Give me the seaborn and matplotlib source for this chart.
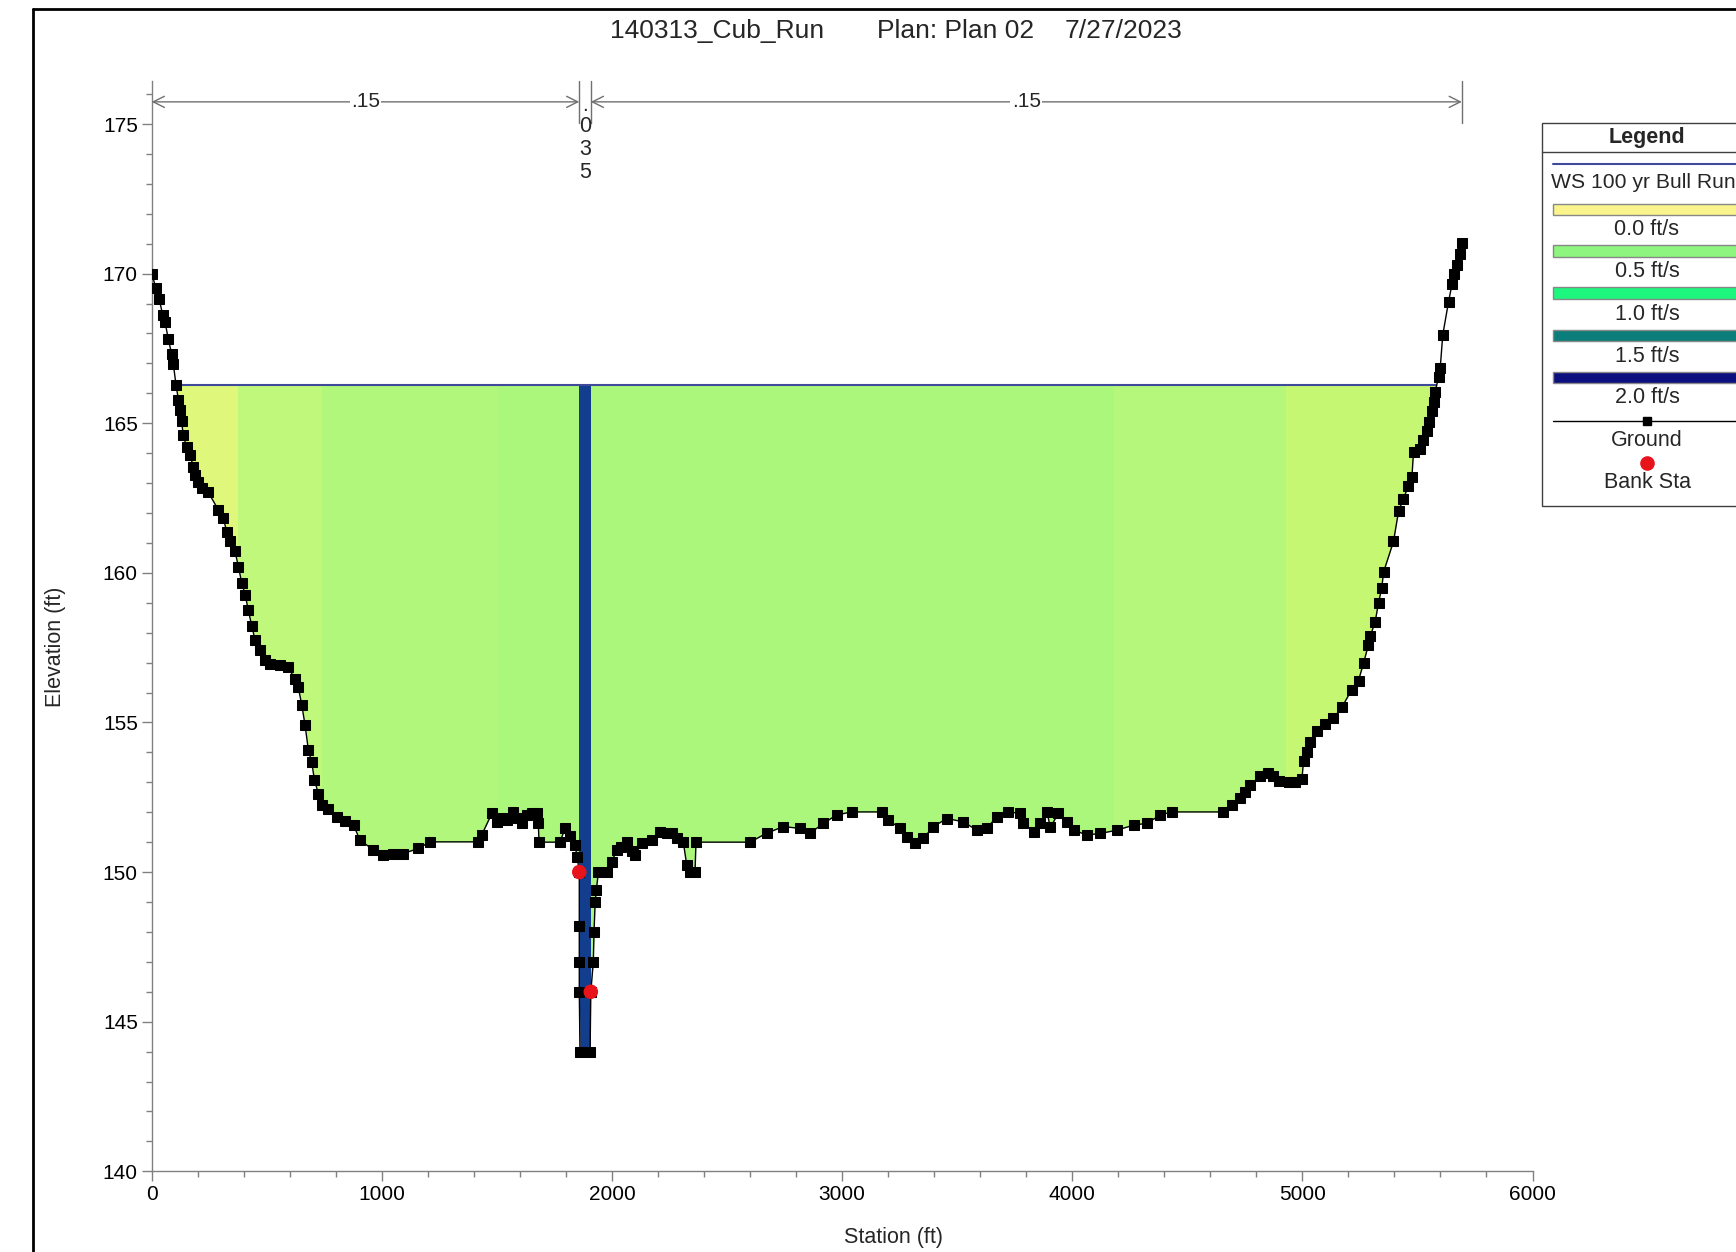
import numpy as np
import pandas as pd
import matplotlib
matplotlib.use("Agg")
import matplotlib.pyplot as plt
import seaborn as sns
from matplotlib.patches import Rectangle
from matplotlib.lines import Line2D
from matplotlib.ticker import MultipleLocator

# ---------------- data ----------------
station = [0, 19, 33, 48, 58, 72, 87, 94, 106, 116, 123, 130, 137, 152, 166, 181, 188, 203, 217, 246,
           290, 311, 326, 340, 362, 377, 391, 406, 420, 435, 449, 471, 492, 514, 558, 594, 623, 637, 652, 666,
           681, 695, 707, 724, 739, 768, 804, 840, 877, 905, 963, 1007, 1050, 1093, 1159, 1209, 1419, 1434, 1478, 1500,
           1520, 1543, 1572, 1590, 1608, 1630, 1651, 1673, 1680, 1683, 1774, 1796, 1818, 1839, 1849, 1858, 1858, 1858, 1858, 1861,
           1905, 1908, 1919, 1922, 1927, 1932, 1941, 1977, 1999, 2020, 2040, 2064, 2085, 2100, 2129, 2173, 2209, 2240, 2259, 2281,
           2310, 2325, 2339, 2361, 2365, 2600, 2672, 2745, 2817, 2861, 2919, 2977, 3042, 3172, 3201, 3252, 3281, 3317, 3353, 3397,
           3455, 3527, 3585, 3629, 3672, 3723, 3774, 3788, 3832, 3861, 3890, 3905, 3940, 3977, 4006, 4064, 4122, 4194, 4267, 4325,
           4383, 4433, 4657, 4693, 4729, 4751, 4773, 4816, 4850, 4874, 4900, 4940, 4969, 4998, 5005, 5019, 5034, 5063, 5099, 5135,
           5171, 5215, 5244, 5266, 5287, 5295, 5316, 5331, 5345, 5353, 5396, 5418, 5439, 5461, 5476, 5483, 5512, 5526, 5541, 5552,
           5563, 5570, 5577, 5592, 5599, 5610, 5635, 5650, 5657, 5671, 5686, 5693]
elevation = [170.0, 169.51, 169.14, 168.61, 168.38, 167.82, 167.3, 166.97, 166.27, 165.78, 165.45, 165.07, 164.6, 164.2, 163.94, 163.55, 163.28, 163.02, 162.83, 162.69,
             162.1, 161.84, 161.37, 161.05, 160.72, 160.2, 159.67, 159.27, 158.75, 158.22, 157.76, 157.43, 157.1, 156.97, 156.91, 156.84, 156.44, 156.18, 155.59, 154.93,
             154.07, 153.68, 153.09, 152.62, 152.23, 152.1, 151.83, 151.7, 151.57, 151.07, 150.74, 150.57, 150.6, 150.62, 150.79, 151.01, 151.01, 151.24, 151.96, 151.68,
             151.8, 151.74, 152.0, 151.8, 151.63, 151.9, 151.96, 151.96, 151.63, 151.0, 151.0, 151.46, 151.2, 150.9, 150.5, 150.0, 148.2, 147.0, 146.0, 144.0,
             144.0, 146.0, 147.0, 148.0, 149.0, 149.4, 150.0, 150.0, 150.33, 150.74, 150.85, 151.0, 150.7, 150.57, 150.96, 151.07, 151.35, 151.3, 151.3, 151.13,
             151.0, 150.23, 150.0, 150.0, 151.0, 151.0, 151.3, 151.52, 151.46, 151.3, 151.63, 151.91, 152.01, 152.01, 151.74, 151.46, 151.18, 150.96, 151.13, 151.52,
             151.79, 151.68, 151.4, 151.46, 151.85, 152.01, 151.96, 151.63, 151.35, 151.63, 152.0, 151.5, 151.96, 151.68, 151.4, 151.24, 151.29, 151.4, 151.57, 151.63,
             151.91, 152.01, 152.01, 152.24, 152.46, 152.68, 152.91, 153.2, 153.3, 153.2, 153.05, 153.0, 153.0, 153.1, 153.71, 154.0, 154.36, 154.72, 154.96, 155.14,
             155.5, 156.1, 156.4, 156.99, 157.59, 157.89, 158.35, 159.0, 159.5, 160.03, 161.05, 162.06, 162.48, 162.9, 163.2, 164.04, 164.15, 164.44, 164.74, 165.04,
             165.4, 165.7, 166.06, 166.54, 166.84, 167.95, 169.05, 169.64, 170.0, 170.3, 170.66, 171.02]
ws_elev = 166.27
bank_station = [1858, 1908]
bank_elev = [150.0, 146.0]

zone_edges = [0, 375, 740, 1500, 1856, 1908, 4180, 4930, 5693]
zone_colors = ["#dff87b", "#c0f87b", "#b0f77c", "#abf77c", "#123e8d", "#abf77c", "#b5f77a", "#c6f773"]

n_edges = [0, 1858, 1908, 5693]
n_labels = [".15", ".035", ".15"]

legend_labels = ["0.0 ft/s", "0.5 ft/s", "1.0 ft/s", "1.5 ft/s", "2.0 ft/s"]
legend_colors = ["#f9f48c", "#8ef57e", "#1ef77e", "#0b7d7a", "#0c0f7e"]

title_parts = ["140313_Cub_Run", "Plan: Plan 02", "7/27/2023"]

# ---------------- style ----------------
sns.set_style("white")
plt.rcParams["font.family"] = ["Liberation Sans", "DejaVu Sans"]

W, H = 1736, 1252
fig = plt.figure(figsize=(W / 100, H / 100), dpi=100)
fx = lambda px: px / W
fy = lambda py: 1 - py / H

ymin, ymax = 140, 176.45
ax_left, ax_right = 151.7, 1532.5
ax_bottom_px = 1171.3
ax_top_px = 124 - (ymax - 175) * 29.92
ax = fig.add_axes([fx(ax_left), fy(ax_bottom_px), fx(ax_right) - fx(ax_left),
                   (ax_bottom_px - ax_top_px) / H])

df = pd.DataFrame({"Station": station, "Elevation": elevation})

# velocity zone fills (below water surface), then mask below ground
for i, c in enumerate(zone_colors):
    ax.fill_between([zone_edges[i], zone_edges[i + 1]], [ymin, ymin], [ws_elev, ws_elev],
                    color=c, lw=0, zorder=1)
ax.fill_between(df["Station"], ymin - 1, df["Elevation"], color="white", lw=0, zorder=1.5)

# water surface
ws_left = 106
ws_right = 5582
ax.plot([ws_left, ws_right], [ws_elev, ws_elev], color="#3f4a9a", lw=1.5, zorder=3)

# ground
sns.lineplot(data=df, x="Station", y="Elevation", sort=False, estimator=None, ax=ax,
             color="black", lw=1, marker="s", markersize=6.5, markeredgecolor="black",
             zorder=4)

# bank stations
bdf = pd.DataFrame({"Station": bank_station, "Elevation": bank_elev})
sns.scatterplot(data=bdf, x="Station", y="Elevation", ax=ax, color="#e8141c", s=110,
                edgecolor="none", zorder=5)

# Manning's n brackets
arrow_y = 175.74
gray = "#707070"
for x in n_edges[1:]:
    ax.plot([x, x], [175.05, ymax], color=gray, lw=1, zorder=3, clip_on=False)
for i in [0, 2]:
    ax.annotate("", xy=(n_edges[i + 1], arrow_y), xytext=(n_edges[i], arrow_y),
                arrowprops=dict(arrowstyle="<->", color=gray, lw=1, shrinkA=0, shrinkB=0,
                                mutation_scale=20))
    ax.text((n_edges[i] + n_edges[i + 1]) / 2, arrow_y, n_labels[i], ha="center", va="center",
            fontsize=15, bbox=dict(facecolor="white", edgecolor="none", pad=1), zorder=6)
mid = (n_edges[1] + n_edges[2]) / 2
lab = n_labels[1]
ax.text(mid, 175.43, lab[0], ha="center", va="baseline", fontsize=15, zorder=6)
ax.text(mid, 175.26, "\n".join(lab[1:]), ha="center", va="top", fontsize=15.5,
        linespacing=1.13, zorder=6)

# axes formatting
ax.set_xlim(0, 6000)
ax.set_ylim(ymin, ymax)
ax.set_xticks(np.arange(0, 6001, 1000))
ax.set_yticks(np.arange(140, 176, 5))
ax.xaxis.set_minor_locator(MultipleLocator(200))
ax.yaxis.set_minor_locator(MultipleLocator(1))
ax.tick_params(axis="both", which="major", direction="out", length=7, width=1, color="#808080",
               labelsize=15, pad=3, labelcolor="black")
ax.tick_params(axis="both", which="minor", direction="out", length=4.5, width=1, color="#808080")
ax.tick_params(axis="x", which="both", bottom=True)
ax.tick_params(axis="y", which="both", left=True)
for s in ["top", "right"]:
    ax.spines[s].set_visible(False)
for s in ["left", "bottom"]:
    ax.spines[s].set_color("#808080")
    ax.spines[s].set_linewidth(1)
ax.set_xlabel("")
ax.set_ylabel("")
fig.text(fx(894), fy(1237), "Station (ft)", ha="center", va="center", fontsize=15.5)
fig.text(fx(55), fy(647), "Elevation (ft)", ha="center", va="center", fontsize=15.5, rotation=90)

# title
fig.text(fx(717), fy(31), title_parts[0], ha="center", va="center", fontsize=19)
fig.text(fx(955.5), fy(31), title_parts[1], ha="center", va="center", fontsize=19)
fig.text(fx(1124), fy(31), title_parts[2], ha="center", va="center", fontsize=19)

# outer frame (only left and top visible)
fig.add_artist(Line2D([fx(32.5), fx(32.5)], [fy(8.5), fy(1260)], color="black", lw=2))
fig.add_artist(Line2D([fx(32.5), fx(1740)], [fy(8.5), fy(8.5)], color="black", lw=2))

# legend box (cut off on the right like the reference)
lx0, ly0, ly1 = 1542.3, 122.5, 505.5
fig.add_artist(Rectangle((fx(lx0), fy(ly1)), fx(1760) - fx(lx0), fy(ly0) - fy(ly1),
                         transform=fig.transFigure, facecolor="white", edgecolor="#404040", lw=1))
fig.add_artist(Line2D([fx(lx0), fx(1740)], [fy(152.3), fy(152.3)], color="#404040", lw=1))
cx = 1647
fig.text(fx(cx), fy(137), "Legend", ha="center", va="center", fontsize=15.5, fontweight="bold")
fig.add_artist(Line2D([fx(1553), fx(1740)], [fy(164.3), fy(164.3)], color="#3f4a9a", lw=1.5))
fig.text(fx(1551), fy(183), "WS 100 yr Bull Run", ha="left", va="center", fontsize=15.2)
bar_tops = [204, 245.5, 287.5, 330, 372]
label_y = [229.5, 272, 314, 356, 397.5]
for bt, ly, lab_txt, col in zip(bar_tops, label_y, legend_labels, legend_colors):
    fig.add_artist(Rectangle((fx(1553), fy(bt + 11)), fx(1760) - fx(1553), 11 / H,
                             transform=fig.transFigure, facecolor=col, edgecolor="#888888", lw=1))
    fig.text(fx(cx), fy(ly), lab_txt, ha="center", va="center", fontsize=15.5)
fig.add_artist(Line2D([fx(1553), fx(1740)], [fy(420.7), fy(420.7)], color="black", lw=1))
fig.add_artist(Line2D([fx(cx)], [fy(420.7)], color="black", marker="s", markersize=6, lw=0))
fig.text(fx(cx), fy(441), "Ground", ha="center", va="center", fontsize=15.5)
fig.add_artist(Line2D([fx(cx)], [fy(463)], color="#e8141c", marker="o", markersize=9.5, lw=0))
fig.text(fx(cx), fy(483), "Bank Sta", ha="center", va="center", fontsize=15.5)

fig.savefig("out.png", dpi=100)
